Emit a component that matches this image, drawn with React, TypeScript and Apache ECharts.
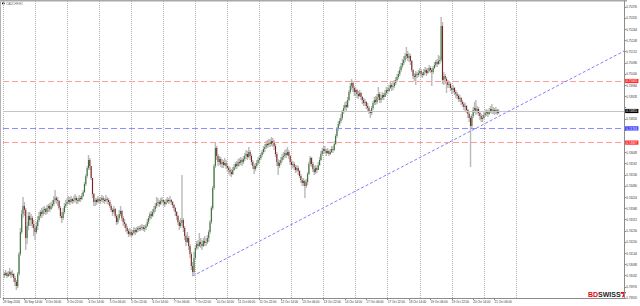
import React, { useEffect, useRef } from "react";
import * as echarts from "echarts";

// ---- chart values -------------------------------------------------------
const SYMBOL = "CADCHF,H1";
const BASE_PRICE = 0.7392; // price at the bottom of the price scale
const PIP = 0.0001;
const SCALE_SPAN_PIPS = 148.5; // visible price span
const PRICE_STEP = 0.00056; // price-scale label step
const START_UTC = Date.UTC(2016, 8, 29, 22); // first H1 bar
const TOTAL_SLOTS = 466; // bars + empty right shift
const LABEL_EVERY = 16;
const GRID_EVERY = 24;
const GRID_LAST = 384;
const MONTHS = ["Jan", "Feb", "Mar", "Apr", "May", "Jun", "Jul", "Aug", "Sep", "Oct", "Nov", "Dec"];

// OHLC in pips above BASE_PRICE (open of a bar = close of the previous bar)
const firstOpenPips = 12;
const closePips = [
  12, 11.5, 12.5, 11, 12, 13, 11.5, 12, 10, 8, 6,
  12, 22, 33, 42, 46, 44,
  30, 36, 41, 39, 40, 37, 35, 33, 36,
  39, 41, 43, 42, 44, 44.5, 43, 45, 46, 44.5, 46,
  47, 49, 50, 49, 48.5, 45, 41, 40, 43, 46, 47, 48,
  49, 48, 49.5, 48.5, 49, 50, 49, 48.5, 50, 49.5, 51,
  53, 57, 61, 65, 69, 66,
  60, 52, 48,
  49, 48, 49.5, 48.5, 49, 50, 49, 48.5, 49.5, 49, 48,
  46, 44, 43, 44.5, 41, 38, 40, 42, 43.5, 40, 38, 37,
  35, 33.5, 32, 33, 31.5, 32.5, 34, 33,
  34, 35, 34.5, 35, 35.5, 34.5, 35, 36,
  38, 40, 42, 41, 43, 44.5, 46, 47.5, 48, 47,
  48.5, 49, 48, 47, 48, 49, 48.5, 49, 48, 46.5, 45,
  43, 41, 38, 36, 37.5, 39, 35,
  31, 28, 30, 26,
  22, 16, 13,
  20, 25, 27, 26, 28, 27, 26, 28.5, 27.5, 28, 30,
  33, 38, 45, 55, 66, 75,
  71, 68, 69.5, 67, 68, 66.5, 67.5, 66,
  65, 64, 63, 62, 64,
  65.5, 67, 66, 68, 67.5, 69, 68, 69.5, 71, 72, 70.5, 73,
  71, 68, 66, 64.5, 66, 67.5, 69,
  70, 71.5, 73, 74.5, 75.5, 77, 76.5, 78, 77, 78.5, 77.5, 76,
  72, 68, 66, 67.5, 69,
  70.5, 71, 72.5, 71.5, 73, 71,
  68, 66.5, 67, 65.5, 64, 65, 63.5,
  61, 59, 57.5, 58.5, 56, 58,
  62, 67, 70, 67, 64.5,
  63, 65, 64, 66.5,
  69, 72, 73.5, 74.5,
  73.5, 72.5, 73.5, 72, 73, 74.5, 74,
  77, 81, 84.5,
  87, 88.5, 90, 93, 95, 96.5,
  95.5, 99, 103, 106, 107.5, 105,
  103, 104, 102, 101, 102.5, 100.5,
  99, 97.5, 98, 96, 95, 93, 92.5,
  95, 97.5, 99, 98, 100.5, 102, 99, 100, 101.5, 100.5,
  102.5, 104, 103.5, 105, 106.5, 105.5, 106,
  107.5, 109, 110.5, 112, 114, 116, 117.5, 119,
  121, 122, 120, 121, 118.5,
  114, 111, 110.5,
  112, 111.5, 112.5, 113.5, 112, 111.5, 113,
  114, 112.5, 113.5, 115, 114, 113,
  115, 116.5, 118, 117, 118.5, 119,
  136, 109, 111, 109.5,
  108, 106.5, 107, 105, 104, 105, 103, 102,
  101, 99.5, 100, 98, 97, 95.5, 96, 94,
  92, 90, 86, 91,
  94, 95, 93, 94.5, 92.5,
  91, 89.5, 90, 91.5, 92.5,
  93, 92, 93.5, 94.5, 93.5, 94,
  93, 94, 92.5, 93.5,
];
const highPips = [
  14, 13, 14, 13, 13.5, 15, 13.5, 14, 12.5, 11, 9,
  13, 23, 35, 44, 50.5, 48,
  45, 38, 43, 43, 42, 41, 39, 36, 38,
  41, 43, 44, 45, 45.5, 46, 45, 46.5, 47, 47.5, 48,
  49, 51, 54, 51, 50.5, 49, 46, 43, 45, 47.5, 49, 50,
  51, 50.5, 51, 50, 51, 52, 51, 50, 51.5, 51, 52.5,
  54, 58, 62, 66, 71.5, 70,
  66, 60, 52.5,
  50, 50, 51, 50, 50.5, 51.5, 51, 50, 51.5, 50.5, 50,
  49, 47, 45, 46, 45, 42, 41.5, 44, 46, 44, 41, 39.5,
  37.5, 36, 34.5, 35, 34, 34, 35.5, 35,
  35.5, 36, 36, 36.5, 37, 36.5, 36.5, 37,
  39.5, 41, 43, 43.5, 44.5, 46, 47.5, 50.5, 50, 49,
  50, 50.5, 49.5, 49, 49.5, 50.5, 50, 51, 49.5, 48.5, 47,
  45.5, 43.5, 41.5, 39, 40, 61.5, 40,
  36, 32, 33, 31,
  27, 23, 18,
  23, 26.5, 28.5, 29, 32.5, 30, 29, 30, 31, 30, 31.5,
  34, 39, 46, 56, 67, 78,
  76, 72, 71, 70.5, 69.5, 69, 70, 69,
  67.5, 66, 65.5, 64.5, 65.5,
  67, 68, 68.5, 69.5, 70, 70.5, 70, 71, 72.5, 74, 73.5, 75.5,
  74, 72, 69, 67, 67.5, 69, 70.5,
  71.5, 72.5, 74, 76, 77, 78.5, 79, 79.5, 79.5, 80.5, 80, 79,
  77, 73, 69.5, 69, 70.5,
  72, 73, 74, 74.5, 75.5, 74,
  71.5, 69, 68.5, 68, 66.5, 66.5, 66,
  64, 62, 60, 60, 59, 59.5,
  63, 68, 71, 70.5, 68,
  66, 66.5, 66, 68,
  70.5, 73.5, 75, 76,
  76, 74.5, 75, 74, 74.5, 76, 76,
  78.5, 82, 85.5,
  88.5, 90, 92, 94, 96.5, 98,
  98.5, 100.5, 104, 107.5, 109.5, 108.5,
  106, 105.5, 104.5, 103.5, 104, 103,
  101, 100, 99.5, 98.5, 97.5, 96, 94,
  96, 98.5, 100.5, 101, 102, 105.5, 103, 101.5, 103, 102.5,
  104, 105.5, 105.5, 106.5, 108, 107.5, 108,
  109, 110.5, 112, 113.5, 115.5, 117.5, 119.5, 121,
  122.5, 125.5, 123.5, 122.5, 122,
  119, 114.5, 112.5,
  113.5, 113, 114, 115, 114.5, 113, 114.5,
  115.5, 115, 115, 116.5, 116, 115,
  116, 118, 119, 119.5, 121.5, 121,
  140.5, 138, 113, 112,
  110.5, 109, 108.5, 108, 106, 106.5, 105.5, 104,
  103, 102, 101.5, 100.5, 99, 98, 97.5, 96.5,
  94.5, 93, 91, 92,
  95.5, 98, 99, 96, 95.5,
  93, 92, 91.5, 93, 94,
  94.5, 94, 95, 96, 97, 95.5,
  95, 95.5, 94.5, 94.5,
];
const lowPips = [
  10, 10, 11, 10, 10.5, 11, 10, 10.5, 8, 6, 4,
  5, 11, 21, 32, 40, 41,
  24, 27, 34, 36, 36, 35, 31, 29, 32,
  34, 38, 40, 40, 41, 42, 41.5, 42, 43, 43, 44,
  45, 46, 48, 47, 46, 44, 40, 37.5, 39, 42, 45, 46,
  47, 46.5, 47.5, 47, 47.5, 48, 47, 47, 48, 48, 49,
  50.5, 52.5, 56, 60, 64, 64,
  59, 50, 46,
  46, 46.5, 47.5, 47, 47, 48, 47.5, 47, 48, 47, 46.5,
  45, 43, 41, 42, 40, 36.5, 37, 39, 41, 38.5, 36, 35,
  33, 32, 30.5, 31, 30.5, 31, 32, 31.5,
  32.5, 33, 33.5, 33.5, 34, 33.5, 33, 34,
  35.5, 37, 39, 39.5, 40.5, 42, 43, 45, 46, 45.5,
  46.5, 47.5, 46, 45.5, 46.5, 47.5, 47, 47.5, 46.5, 45, 43.5,
  41, 39, 36.5, 34, 35, 36, 33,
  29, 26, 27.5, 24,
  20, 14, 11,
  12, 19, 24, 24.5, 25.5, 25, 24, 25.5, 26, 26, 27,
  28, 32, 37, 44, 54, 65,
  69, 66, 66.5, 65.5, 65, 65, 66, 64.5,
  63, 62, 61, 60.5, 61.5,
  63.5, 64.5, 64.5, 65.5, 66, 66.5, 66, 67, 68.5, 69.5, 69, 70,
  69, 66.5, 64.5, 62, 63.5, 65, 66.5,
  67.5, 69, 70.5, 72, 73, 74.5, 75, 75.5, 75.5, 76, 75.5, 74,
  70.5, 66, 61.5, 65, 66.5,
  68, 69, 70, 70, 71, 69.5,
  66.5, 64.5, 65, 64, 62.5, 63, 61.5,
  60, 57.5, 56, 56, 50, 55,
  56.5, 61.5, 66, 65.5, 63,
  61.5, 62, 62.5, 64,
  66, 68.5, 71, 72.5,
  72, 71, 72, 71, 71.5, 72.5, 72.5,
  73.5, 76.5, 80,
  83.5, 86, 87.5, 89, 92, 94,
  93.5, 95, 98.5, 102, 104, 103,
  101, 101.5, 100, 99.5, 100.5, 99,
  97, 96, 96, 94.5, 93, 92, 90,
  91.5, 94, 96.5, 96.5, 97, 99, 97.5, 97.5, 99, 99,
  100.5, 101.5, 102, 103, 104.5, 103.5, 104,
  105, 106.5, 108, 109.5, 111, 113, 115, 116.5,
  118, 119.5, 118.5, 118, 116.5,
  113, 109.5, 108.5,
  106.5, 110, 110.5, 111.5, 110.5, 110, 111,
  112, 111, 112, 113, 112.5, 106,
  112, 114.5, 115.5, 115.5, 116.5, 117,
  118, 107, 106.5, 107,
  102.5, 105, 105, 103.5, 102, 102.5, 101.5, 100,
  99.5, 98, 98, 96.5, 95.5, 94, 93.5, 92.5,
  90, 88, 65.5, 85,
  90, 92.5, 91.5, 92, 91,
  89, 88, 88, 89.5, 90.5,
  91, 90.5, 91.5, 92.5, 92, 92,
  91.5, 92, 91.5, 92,
];

// horizontal levels and the trend line (prices)
const levelBlue = 0.74768;
const levelRedLow = 0.74697;
const levelRedHigh = 0.75005;
const trendStart: [number, number] = [142, 0.7403];
const trendEnd: [number, number] = [465, 0.75155];

// ---- helpers --------------------------------------------------------------
const FONT = "'Liberation Sans', Arial, sans-serif";
const toPrice = (p: number) => +(BASE_PRICE + p * PIP).toFixed(5);

function buildCategories(): string[] {
  const out: string[] = [];
  let t = START_UTC;
  while (out.length < TOTAL_SLOTS) {
    const d = new Date(t);
    const wd = d.getUTCDay();
    if (wd !== 0 && wd !== 6) {
      const day = d.getUTCDate();
      const mon = MONTHS[d.getUTCMonth()];
      if (out.length === 0) out.push(`${day} ${mon} ${d.getUTCFullYear()}`);
      else out.push(`${day} ${mon} ${String(d.getUTCHours()).padStart(2, "0")}:00`);
    }
    t += 3600000;
  }
  return out;
}

export default function App() {
  const ref = useRef<HTMLDivElement>(null);

  useEffect(() => {
    document.body.style.margin = "0";
    if (!ref.current) return;
    const chart = echarts.init(ref.current, undefined, { renderer: "svg" });

    const categories = buildCategories();
    const n = closePips.length;
    const rows: number[][] = [];
    for (let i = 0; i < n; i++) {
      const o = toPrice(i === 0 ? firstOpenPips : closePips[i - 1]);
      const c = toPrice(closePips[i]);
      const h = Math.max(toPrice(highPips[i]), o, c);
      const l = Math.min(toPrice(lowPips[i]), o, c);
      rows.push([i, o, c, l, h]);
    }
    const lastClose = toPrice(closePips[n - 1]);
    const tagged = [lastClose, levelBlue, levelRedLow, levelRedHigh];

    const labelShow = (i: number) => i % LABEL_EVERY === 0 && i < n;
    const gridShow = (i: number) => i % GRID_EVERY === 0 && i <= GRID_LAST;

    const tag = (bg: string) => ({
      show: true,
      position: "end",
      distance: 1,
      formatter: (p: any) => Number(p.value).toFixed(5),
      backgroundColor: bg,
      color: "#ffffff",
      fontSize: 3,
      fontFamily: FONT,
      padding: [0.6, 1.2, 0.6, 1.2],
    });

    const hLine = (value: number, color: string, type: any, bg: string) => ({
      yAxis: value,
      lineStyle: { color, type, width: 1 },
      label: tag(bg),
    });

    chart.setOption({
      animation: false,
      backgroundColor: "#ffffff",
      grid: { left: 3, right: 13, top: 1, bottom: 8 },
      xAxis: {
        type: "category",
        data: categories,
        boundaryGap: false,
        axisLine: { show: true, onZero: false, lineStyle: { color: "#8c8c8c", width: 1 } },
        axisTick: { show: true, length: 2, interval: labelShow, lineStyle: { color: "#8c8c8c" } },
        axisLabel: {
          interval: labelShow,
          fontSize: 3,
          color: "#333333",
          align: "left",
          margin: 2,
          fontFamily: FONT,
        },
        splitLine: {
          show: true,
          interval: gridShow,
          lineStyle: { color: "#b0b0b0", type: [1, 1], width: 1 },
        },
      },
      yAxis: {
        type: "value",
        position: "right",
        min: BASE_PRICE,
        max: BASE_PRICE + SCALE_SPAN_PIPS * PIP,
        interval: PRICE_STEP,
        axisLine: { show: true, lineStyle: { color: "#8c8c8c", width: 1 } },
        axisTick: { show: true, length: 2, lineStyle: { color: "#8c8c8c" } },
        axisLabel: {
          showMaxLabel: false,
          fontSize: 3,
          color: "#333333",
          margin: 2,
          fontFamily: FONT,
          // a scale label that sits under a price tag is covered by it
          formatter: (v: number) =>
            tagged.some((t) => Math.abs(t - v) < 0.00019) ? "" : v.toFixed(5),
        },
        splitLine: { show: false },
      },
      series: [
        {
          type: "custom",
          name: "candles",
          data: rows,
          encode: { x: 0, y: [1, 2, 3, 4] },
          clip: true,
          renderItem: (_params: any, api: any) => {
            const i = api.value(0);
            const o = api.value(1);
            const c = api.value(2);
            const l = api.value(3);
            const h = api.value(4);
            const pH = api.coord([i, h]);
            const pL = api.coord([i, l]);
            const pO = api.coord([i, o]);
            const pC = api.coord([i, c]);
            const x = pH[0];
            const y1 = Math.min(pO[1], pC[1]);
            const y2 = Math.max(pO[1], pC[1]);
            return {
              type: "group",
              children: [
                {
                  type: "line",
                  shape: { x1: x, y1: pH[1], x2: x, y2: pL[1] },
                  style: { stroke: "#b9b9b9", lineWidth: 1.4 },
                },
                {
                  type: "rect",
                  shape: { x: x - 0.5, y: y1, width: 1, height: Math.max(y2 - y1, 0.6) },
                  style: { fill: c >= o ? "#2d742d" : "#861d1d" },
                },
              ],
            };
          },
        },
        {
          type: "line",
          name: "levels",
          data: [],
          silent: true,
          markLine: {
            silent: true,
            precision: 5,
            symbol: ["none", "none"],
            animation: false,
            data: [
              hLine(lastClose, "#c4c4c4", "solid", "#000000"),
              hLine(levelBlue, "#8e8eff", [6, 3], "#3535ff"),
              hLine(levelRedLow, "#ff9d9d", [6, 3], "#ff2626"),
              hLine(levelRedHigh, "#ff9d9d", [6, 3], "#ff2626"),
              [
                { coord: trendStart, lineStyle: { color: "#8080ff", type: [3, 2], width: 1 }, label: { show: false } },
                { coord: trendEnd },
              ],
            ],
          },
        },
      ],
      graphic: [
        { type: "rect", shape: { x: 0, y: 0, width: 627, height: 1.5 }, style: { fill: "#a8a8a8" } },
        { type: "rect", shape: { x: 0, y: 0, width: 1, height: 298 }, style: { fill: "#b4b4b4" } },
        { type: "rect", shape: { x: 2, y: 2.6, width: 2.6, height: 1.6 }, style: { fill: "#000000" } },
        {
          type: "text",
          style: { x: 6, y: 3.4, text: SYMBOL, fill: "#666666", fontSize: 3, fontFamily: FONT, verticalAlign: "middle" },
        },
        {
          type: "text",
          style: { x: 588, y: 297.6, text: "BD", fill: "#e30613", fontSize: 7, fontWeight: "bold", fontFamily: FONT, verticalAlign: "bottom" },
        },
        {
          type: "text",
          style: { x: 598.1, y: 297.6, text: "SWISS", fill: "#1d1d1b", fontSize: 7, fontWeight: "bold", fontFamily: FONT, verticalAlign: "bottom" },
        },
        {
          type: "polygon",
          shape: { points: [[621, 292], [626, 292], [623.4, 297.2], [621.9, 297.2], [623.6, 293.7], [620.4, 293.7]] },
          style: { fill: "#e30613" },
        },
      ],
    });

    return () => chart.dispose();
  }, []);

  return <div ref={ref} style={{ width: 640, height: 306 }} />;
}
